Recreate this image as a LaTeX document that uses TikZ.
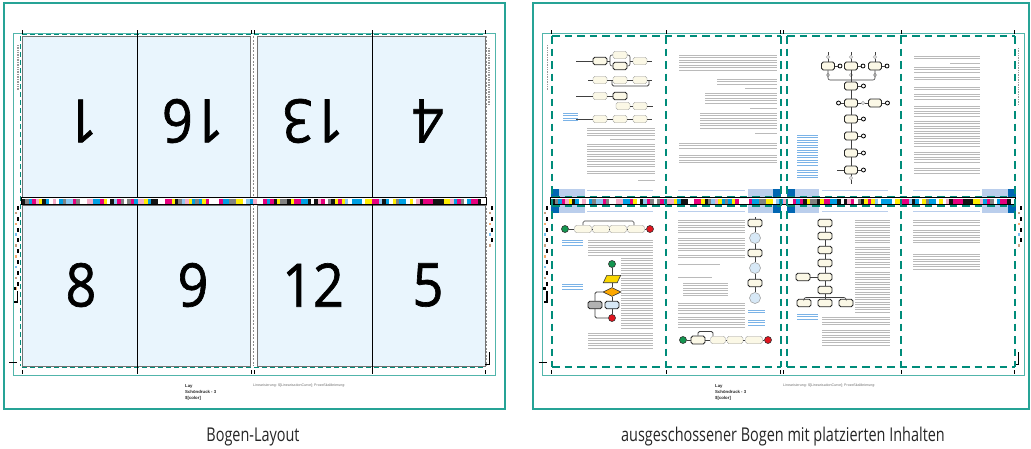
\documentclass[tikz,border=0pt]{standalone}
\usepackage{fontspec}
\setmainfont{Open Sans}
\newfontfamily\numfont[FakeStretch=0.9,FakeBold=1.1]{Open Sans}
\newfontfamily\capfont[FakeStretch=0.76]{Open Sans}
\newfontfamily\tinyfont{Liberation Sans}
\usetikzlibrary{shapes.geometric}

\definecolor{panelteal}{RGB}{38,163,150}
\definecolor{dteal}{RGB}{0,140,122}
\definecolor{pagefill}{RGB}{233,245,253}
\definecolor{cream}{RGB}{251,248,230}
\definecolor{dblue}{RGB}{0,102,178}
\definecolor{lblue}{RGB}{186,206,236}
\definecolor{noteblue}{RGB}{90,160,225}
\definecolor{fgreen}{RGB}{20,150,80}
\definecolor{fred}{RGB}{225,20,30}
\definecolor{fyellow}{RGB}{250,215,0}
\definecolor{paleblue}{RGB}{215,232,246}
\definecolor{cb0}{RGB}{20,20,20}
\definecolor{cb1}{RGB}{0,160,227}
\definecolor{cb2}{RGB}{230,0,126}
\definecolor{cb3}{RGB}{255,237,0}
\definecolor{cb4}{RGB}{20,20,20}
\definecolor{cb5}{RGB}{140,200,240}
\definecolor{cb6}{RGB}{245,170,200}
\definecolor{cb7}{RGB}{255,255,255}
\definecolor{cb8}{RGB}{130,130,130}
\definecolor{cb9}{RGB}{0,160,227}
\definecolor{cb10}{RGB}{230,0,126}
\definecolor{cb11}{RGB}{255,237,0}
\definecolor{cb12}{RGB}{255,255,255}
\definecolor{sc0}{RGB}{150,150,150}
\definecolor{sc1}{RGB}{200,160,130}
\definecolor{sc2}{RGB}{240,220,40}
\definecolor{sc3}{RGB}{120,190,240}
\definecolor{sc4}{RGB}{240,130,190}
\definecolor{sc5}{RGB}{245,170,110}

\tikzset{
 panel/.style={draw=panelteal, line width=1.6pt},
 innerframe/.style={draw=panelteal!80, line width=0.9pt},
 pageedge/.style={draw=black!55, line width=0.8pt},
 pagefold/.style={draw=black, line width=0.7pt},
 tickm/.style={draw=black, line width=1pt},
 tdash/.style={draw=dteal, line width=1.7pt, dash pattern=on 7.5pt off 5pt},
 tdashthin/.style={draw=dteal, line width=0.9pt, dash pattern=on 5pt off 3pt},
 gdash/.style={draw=black!45, line width=0.6pt, dash pattern=on 2pt off 1.5pt},
 txt/.style={draw=black!27, line width=0.75pt},
 ntxt/.style={draw=noteblue!80, line width=0.7pt},
 hrule/.style={draw=lblue, line width=1pt},
 fb/.style={draw=black!40, fill=cream, line width=0.4pt, rounded corners=1.8pt, minimum width=14pt, minimum height=7.5pt, inner sep=0pt},
 fbd/.style={fb, draw=black!85, line width=0.9pt},
 fl/.style={draw=black!75, line width=0.6pt},
 startc/.style={circle, draw=black!80, fill=fgreen, line width=0.6pt, minimum size=7pt, inner sep=0pt},
 endc/.style={circle, draw=black!80, fill=fred, line width=0.6pt, minimum size=7pt, inner sep=0pt},
 portc/.style={circle, draw=black, fill=white, line width=0.8pt, minimum size=4pt, inner sep=0pt},
 pale/.style={circle, draw=black!30, fill=black!10, minimum size=3.5pt, inner sep=0pt},
 lcirc/.style={circle, draw=black!40, fill=paleblue, line width=0.5pt, minimum size=11pt, inner sep=0pt},
 bignum/.style={font=\numfont\fontsize{60}{60}\selectfont, inner sep=0pt},
 captext/.style={font=\capfont\fontsize{19}{19}\selectfont, text=black!85},
 laytext/.style={font=\tinyfont\bfseries\fontsize{4.3}{5}\selectfont, anchor=west, inner sep=0pt, text=black!85},
 lintext/.style={font=\tinyfont\fontsize{3.6}{4}\selectfont, text=black!55, anchor=west, inner sep=0pt},
 vtext/.style={draw=black!40, line width=1.3pt, dash pattern=on 1pt off 0.7pt},
}

\newcommand\txtblock[5][txt]{%
 \pgfmathtruncatemacro\nlns{(#5-#3)/2.5}%
 \foreach \n in {0,...,\nlns}{\draw[#1] (#2,{#3+\n*2.5}) -- (#4,{#3+\n*2.5});}}

\newcommand\cbar[2]{%
 \foreach \i in {0,...,#2}{%
  \pgfmathtruncatemacro\cbk{mod(\i*5+mod(\i,7)*mod(\i,3)*3,13)}%
  \fill[cb\cbk] ({#1+\i*3.4},198.5) rectangle ++(3.4,5);}}

\newcommand\sidestrip[3]{%
 \foreach \j in {0,...,#3}{%
  \fill[black] (#1,{#2+\j*10.8}) rectangle ++(2,4);
  \pgfmathtruncatemacro\sck{mod(\j*4+1,6)}%
  \fill[sc\sck] ({#1-1.6},{#2+5.8+\j*10.8}) rectangle ++(1.8,2.6);}}

\begin{document}
\begin{tikzpicture}[x=1pt,y=-1pt]
\useasboundingbox (0,0) rectangle (1031,448);
\fill[white] (0,0) rectangle (1031,448);

%================ LEFT PANEL =================
\foreach \a/\b in {22/137,137/250,257/372,372/485}{
 \fill[pagefill] (\a,36) rectangle (\b,197);
 \fill[pagefill] (\a,205) rectangle (\b,366);}
\foreach \a/\b in {22/250,257/485}{
 \draw[pageedge] (\a,36) rectangle (\b,197);
 \draw[pageedge] (\a,205) rectangle (\b,366);}
\draw[tdashthin] (22,34.5) -- (485,34.5);
\draw[tdashthin] (22,367.5) -- (485,367.5);
\draw[tdashthin] (20.5,36) -- (20.5,366);
\draw[gdash] (253.5,36) -- (253.5,366);
\draw[gdash] (486.5,36) -- (486.5,366);
\draw[pagefold] (137,31) -- (137,371);
\draw[pagefold] (372,31) -- (372,371);

\node[bignum, rotate=180] (n1) at (82,121) {1};
\node[bignum, rotate=180] (n16) at (193,121) {16};
\node[bignum, rotate=180] (n13) at (313,121) {13};
\node[bignum, rotate=180] (n4) at (428,121) {4};
\node[bignum] (n8) at (81,285) {8};
\node[bignum] (n9) at (193,285) {9};
\node[bignum] (n12) at (313,285) {12};
\node[bignum] (n5) at (428,285) {5};

%================ RIGHT PANEL CONTENT =================
% --- page A (top left, upside down): flow rows
\node[fbd] (a11) at (600,61) {};
\node[fb]  (a12) at (620,55) {};
\node[fbd] (a13) at (620,66) {};
\node[fb]  (a14) at (640,61) {};
\coordinate (a1in) at (576,61);
\coordinate (a1s) at (610,61);
\coordinate (a1m) at (630,61);
\coordinate (a1out) at (652,61);
\draw[fl] (a1in) -- (a11.west);
\draw[fl] (a11.east) -- (a1s);
\draw[fl, rounded corners=2pt] (a1s) |- (a12.west);
\draw[fl, rounded corners=2pt] (a1s) |- (a13.west);
\draw[fl, rounded corners=2pt] (a12.east) -| (a1m);
\draw[fl, rounded corners=2pt] (a13.east) -| (a1m);
\draw[fl] (a1m) -- (a14.west);
\draw[fl] (a14.east) -- (a1out);

\node[fb] (a21) at (600,80) {};
\node[fb] (a22) at (620,80) {};
\node[fb] (a23) at (640,80) {};
\coordinate (a2in) at (588,80);
\coordinate (a2out) at (652,80);
\coordinate (a2l) at (612,86);
\coordinate (a2r) at (649,86);
\draw[fl] (a2in) -- (a21.west);
\draw[fl] (a21.east) -- (a22.west);
\draw[fl] (a22.east) -- (a23.west);
\draw[fl] (a23.east) -- (a2out);
\draw[fl, line width=0.9pt, rounded corners=1.5pt] (612,80) -- (a2l) -- (a2r) -- (649,80);

\node[fb]  (a31) at (600,96) {};
\node[fbd] (a32) at (620,96) {};
\coordinate (a3in) at (576,96);
\draw[fl] (a3in) -- (a31.west);
\draw[fl] (a31.east) -- (a32.west);

\node[fb] (a41) at (623,106) {};
\node[fb] (a42) at (640,106) {};
\coordinate (a4out) at (653,106);
\draw[fl] (a41.east) -- (a42.west);
\draw[fl] (a42.east) -- (a4out);

\node[fb] (a51) at (600,119) {};
\node[fb] (a52) at (620,119) {};
\node[fb] (a53) at (640,119) {};
\coordinate (a5in) at (576,119);
\coordinate (a5out) at (652,119);
\draw[fl] (a5in) -- (a51.west);
\draw[fl] (a51.east) -- (a52.west);
\draw[fl] (a52.east) -- (a53.west);
\draw[fl] (a53.east) -- (a5out);

\txtblock[ntxt]{563}{113}{578}{121}
\txtblock{587}{128}{655}{136}
\txtblock{610}{139}{655}{141}
\txtblock{587}{144}{655}{168}
\txtblock{587}{171}{655}{174}
\txtblock{638}{180}{655}{180}

% --- page B (top)
\txtblock{679}{55}{777}{70}
\txtblock{717}{79}{777}{84}
\txtblock{745}{88}{777}{88}
\txtblock{705}{93}{777}{104}
\txtblock{750}{108}{777}{108}
\txtblock{700}{113}{777}{128}
\txtblock{755}{133}{777}{133}
\txtblock{679}{143}{777}{150}
\txtblock{679}{155}{777}{163}

% --- page C (top): tree
\tikzset{fbt/.style={fbd, minimum width=13pt, minimum height=8pt}}
\node[fbt] (c1) at (828,66) {};
\node[fbt] (c2) at (851,66) {};
\node[fbt] (c3) at (875,66) {};
\node[portc] (c1p) at (840,66) {};
\node[portc] (c2p) at (863,66) {};
\node[portc] (c3p) at (887,66) {};
\foreach \cx/\nm in {828/c1,851/c2,875/c3}{
 \coordinate (\nm top) at (\cx,52);
 \draw[fl] (\nm.north) -- (\nm top);
 \draw[fl] (\nm.east) -- (\nm p.west);
 \node[pale] at (\cx,57) {};
 \node[pale] at (\cx,75) {};
}
\node[fbt] (c4) at (851,86) {};
\node[fbt] (c5) at (851,103) {};
\node[fbt] (c6) at (875,103) {};
\node[fbt] (c7) at (851,119) {};
\node[fbt] (c8) at (851,136) {};
\node[fbt] (c9) at (851,153) {};
\node[fbt] (c10) at (851,170) {};
\coordinate (cmerge) at (851,80);
\coordinate (cbot) at (851,184);
\draw[fl, rounded corners=2pt] (c1.south) |- (cmerge) -| (c3.south);
\draw[fl] (c2.south) -- (c4.north);
\draw[fl] (c4.south) -- (c5.north);
\draw[fl] (c5.east) -- (c6.west);
\draw[fl] (c5.south) -- (c7.north);
\draw[fl] (c7.south) -- (c8.north);
\draw[fl] (c8.south) -- (c9.north);
\draw[fl] (c9.south) -- (c10.north);
\draw[fl] (c10.south) -- (cbot);
\node[pale] at (851,178) {};
\node[pale] at (863,103) {};
\foreach \nm in {c4,c7,c8,c9,c10}{
 \node[portc] (\nm p) at ([xshift=5.5pt]\nm.east) {};
 \draw[fl] (\nm.east) -- (\nm p.west);}
\node[portc] (c6p) at ([xshift=5.5pt]c6.east) {};
\draw[fl] (c6.east) -- (c6p.west);
\node[portc] (c5l) at ([xshift=-5.5pt]c5.west) {};
\draw[fl] (c5l.east) -- (c5.west);
\coordinate (c10l) at (837,170);
\draw[fl] (c10l) -- (c10.west);
\txtblock[ntxt]{797}{135}{818}{165}
\txtblock[ntxt]{797}{170}{818}{178}

% --- page D (top)
\txtblock{914}{56}{980}{59}
\txtblock{950}{63}{980}{63}
\txtblock{914}{67}{980}{72}
\txtblock{914}{77}{980}{80}
\txtblock{914}{87}{980}{90}
\txtblock{914}{94}{980}{100}
\txtblock{914}{106}{980}{117}
\txtblock{914}{121}{980}{147}
\txtblock{914}{152}{980}{163}
\txtblock{914}{168}{980}{175}

% --- footers of top pages / headers of bottom pages
\foreach \ya/\yb/\yr in {189/197/190.5, 205/213/211.5}{
 \fill[dblue] (551,\ya) rectangle (559,\yb);
 \fill[lblue] (559,\ya) rectangle (585,\yb);
 \fill[lblue] (748,\ya) rectangle (773,\yb);
 \fill[dblue] (773,\ya) rectangle (781,\yb);
 \fill[dblue] (787,\ya) rectangle (795,\yb);
 \fill[lblue] (795,\ya) rectangle (819,\yb);
 \fill[lblue] (982,\ya) rectangle (1008,\yb);
 \fill[dblue] (1008,\ya) rectangle (1016,\yb);
 \draw[hrule] (587,\yr) -- (653,\yr);
 \draw[hrule] (678,\yr) -- (745,\yr);
 \draw[hrule] (822,\yr) -- (888,\yr);
 \draw[hrule] (913,\yr) -- (980,\yr);
}

% --- page E (bottom left)
\node[startc] (e0) at (565,229) {};
\node[fb, minimum width=17pt] (e1) at (583,229) {};
\node[fb, minimum width=17pt] (e2) at (601,229) {};
\node[fb, minimum width=17pt] (e3) at (618,229) {};
\node[fb, minimum width=17pt] (e4) at (636,229) {};
\node[endc] (e5) at (650,229) {};
\coordinate (e1t) at (583,221);
\coordinate (e4t) at (634,221);
\draw[fl] (e0) -- (e1);
\draw[fl] (e1) -- (e2);
\draw[fl] (e2) -- (e3);
\draw[fl] (e3) -- (e4);
\draw[fl] (e4) -- (e5);
\draw[fl, rounded corners=1.5pt] (e1.north) -- (e1t) -- (e4t) -- (e4.north -| e4t);
\txtblock[ntxt]{562}{240}{583}{246}
\txtblock{588}{240}{653}{257}

\node[startc] (v0) at (612,264) {};
\node[minimum width=17pt, minimum height=7pt, inner sep=0pt] (v1) at (612,279) {};
\draw[draw=black!80, fill=fyellow, line width=0.6pt] (v1.south west) -- ([xshift=3.5pt]v1.north west) -- (v1.north east) -- ([xshift=-3.5pt]v1.south east) -- cycle;
\node[diamond, draw=black!80, fill=orange!55!fyellow, line width=0.6pt, minimum width=18pt, minimum height=9pt, inner sep=0.5pt, shape aspect=2] (v2) at (612,292) {};
\node[fbd, fill=black!30] (v3) at (595,305) {};
\node[fbd, fill=paleblue] (v4) at (612,305) {};
\node[endc] (v5) at (612,318) {};
\draw[fl] (v0) -- (v1);
\draw[fl] (v1) -- (v2);
\draw[fl] (v2) -- (v4);
\draw[fl] (v4) -- (v5);
\draw[fl, line width=0.9pt, rounded corners=1.5pt] (v2.west) -| (v3.north);
\draw[fl, line width=0.9pt, rounded corners=1.5pt] (v3.south) |- (v5.west);
\txtblock{621}{258}{653}{330}
\txtblock[ntxt]{562}{284}{583}{290}
\txtblock{588}{333}{653}{350}

% --- page F (bottom)
\txtblock{678}{220}{745}{233}
\txtblock{678}{238}{745}{251}
\txtblock{678}{255}{745}{258}
\txtblock{678}{264}{720}{264}
\txtblock{678}{277}{712}{277}
\txtblock{683}{283}{728}{297}
\txtblock{678}{303}{745}{313}
\txtblock{678}{317}{745}{327}
\node[fbd] (f1) at (755,223) {};
\node[lcirc] (f2) at (755,238) {};
\node[fbd] (f3) at (755,253) {};
\node[lcirc] (f4) at (755,268) {};
\node[fbd] (f5) at (755,283) {};
\node[lcirc] (f6) at (755,298) {};
\coordinate (ftop) at (755,217);
\draw[fl] (ftop) -- (f1);
\draw[fl] (f1) -- (f2);
\draw[fl] (f2) -- (f3);
\draw[fl] (f3) -- (f4);
\draw[fl] (f4) -- (f5);
\draw[fl] (f5) -- (f6);
\txtblock[ntxt]{748}{310}{765}{313}
\txtblock[ntxt]{748}{320}{765}{325}

\node[startc] (h0) at (683,340) {};
\node[fbd, minimum height=8pt] (h1) at (698,340) {};
\node[fb, minimum width=15pt] (h2) at (718,340) {};
\node[fb, minimum width=16pt] (h3) at (735,340) {};
\node[fb, minimum width=17pt] (h4) at (754,340) {};
\node[endc] (h5) at (768,340) {};
\coordinate (h1t) at (698,331.5);
\coordinate (h2t) at (713,331.5);
\draw[fl] (h0) -- (h1);
\draw[fl] (h1) -- (h2);
\draw[fl] (h2) -- (h3);
\draw[fl] (h3) -- (h4);
\draw[fl] (h4) -- (h5);
\draw[fl, line width=0.8pt, rounded corners=1.5pt] (h1.north) -- (h1t) -- (h2t) -- (h2.north -| h2t);

% --- page G (bottom): tree
\node[fbd] (g1) at (825,223) {};
\node[fbd] (g2) at (825,236) {};
\node[fbd] (g3) at (825,250) {};
\node[fbd] (g4) at (825,263) {};
\node[fbd] (g5) at (825,277) {};
\node[fbd] (g6) at (825,290) {};
\node[fbd] (g7) at (803,277) {};
\node[fbd] (g8) at (804,303) {};
\node[fbd] (g9) at (825,303) {};
\node[fbd] (g10) at (846,303) {};
\coordinate (gb) at (825,297.5);
\draw[fl] (g1) -- (g2);
\draw[fl] (g2) -- (g3);
\draw[fl] (g3) -- (g4);
\draw[fl] (g4) -- (g5);
\draw[fl] (g5) -- (g6);
\draw[fl] (g7) -- (g5);
\draw[fl] (g6.south) -- (g9.north);
\draw[fl, rounded corners=2pt] (gb) -| (g8.north);
\draw[fl, rounded corners=2pt] (gb) -| (g10.north);
\txtblock{855}{220}{890}{243}
\txtblock{855}{247}{890}{268}
\txtblock{855}{272}{890}{313}
\txtblock[ntxt]{797}{314}{818}{320}
\txtblock{822}{317}{890}{325}
\txtblock{822}{330}{890}{347}

% --- page H (bottom)
\txtblock{913}{220}{980}{226}
\txtblock{913}{230}{980}{243}
\txtblock{913}{254}{980}{269}

%================ COMMON FRAME PARTS =================
\foreach \dx in {0,529.5}{
 \begin{scope}[xshift=\dx pt]
  \draw[innerframe] (13,33) rectangle (495,375);
  \foreach \tx in {22,137,251,254,372,485}{
   \draw[tickm] (\tx,30) -- (\tx,34);
   \draw[tickm] (\tx,370) -- (\tx,374);}
  \fill[white] (21,197.5) rectangle (486,204.5);
  \cbar{22}{135}
  \draw[black, line width=0.6pt] (21,197.5) rectangle (486,204.5);
  \sidestrip{16.5}{206}{7}
  \sidestrip{490.5}{206}{3}
  \fill[black] (13.5,287) rectangle (16,290);
  \draw[black, line width=1.2pt] (17.5,291) -- (17.5,302) -- (14,302);
  \draw[black, line width=0.6pt] (9,362) -- (17,362);
  \draw[black, line width=0.8pt] (489,352) -- (489,364) -- (485,364);
  \draw[vtext] (18,45) -- (18,90);
  \draw[vtext] (489,48) -- (489,105);
 \end{scope}
}

% right panel thick dashed page borders
\foreach \yy in {36,196.5,206,367}{
 \draw[tdash] (552,\yy) -- (781,\yy);
 \draw[tdash] (787,\yy) -- (1015,\yy);}
\foreach \xx in {552,666,781,787,901,1015}{
 \draw[tdash] (\xx,36) -- (\xx,367);}

% outer panels
\draw[panel] (4,3) rectangle (505,409);
\draw[panel] (533,3) rectangle (1029,409);

% slug texts
\node[laytext] (lay1) at (185,386) {Lay};
\node[laytext] (sd1) at (185,392) {Schöndruck - 3};
\node[laytext] (col1) at (185,398) {\$[color]};
\node[lintext] (lin1) at (253,386) {Linearisierung: \$[LinearisationCurve]; Prozeßkalibrierung:};
\node[laytext] (lay2) at (715,386) {Lay};
\node[laytext] (sd2) at (715,392) {Schöndruck - 3};
\node[laytext] (col2) at (715,398) {\$[color]};
\node[lintext] (lin2) at (783,386) {Linearisierung: \$[LinearisationCurve]; Prozeßkalibrierung:};

% captions
\node[captext] (cap1) at (253,437) {Bogen-Layout};
\node[captext] (cap2) at (783,437) {ausgeschossener Bogen mit platzierten Inhalten};
\end{tikzpicture}
\end{document}
